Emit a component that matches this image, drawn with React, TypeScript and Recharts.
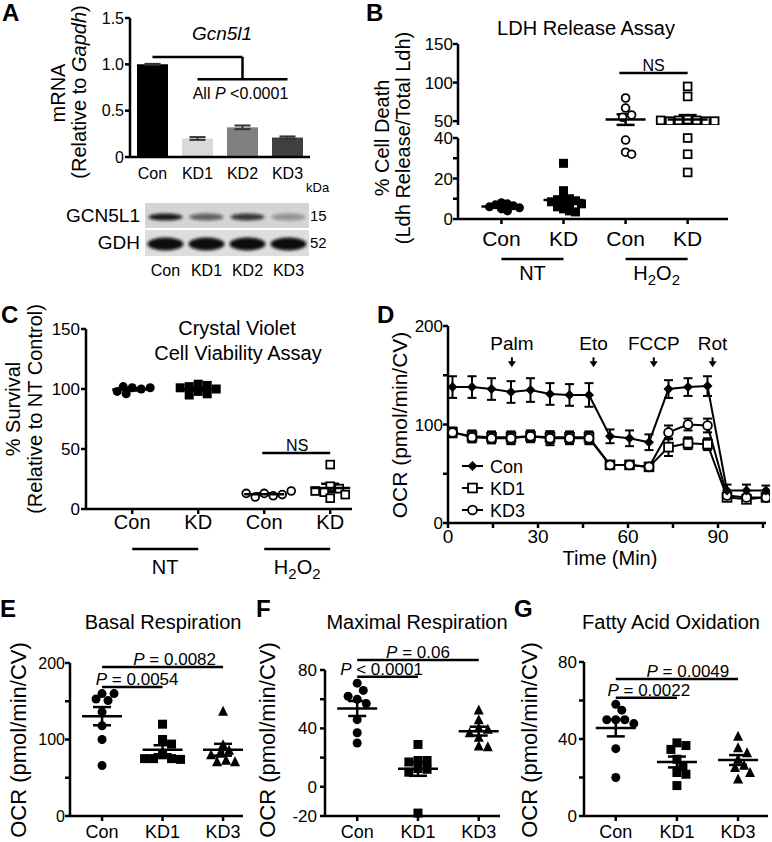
import React from "react";
import {
  ComposedChart,
  Bar,
  Cell,
  XAxis,
  YAxis,
  Scatter,
  Line,
  ErrorBar,
  ReferenceLine,
  ReferenceDot,
} from "recharts";

const FONT = '"Liberation Sans", Arial, Helvetica, sans-serif';
const INK = "#000";

// ---------- A: Gcn5l1 mRNA + blot
const aGroups = ["Con", "KD1", "KD2", "KD3"];
const aMrna = [1.0, 0.2, 0.32, 0.21];
const aSem = [0.005, 0.015, 0.02, 0.012];
const aTicks = [0, 0.5, 1, 1.5];
const aColors = ["#000000", "#d9d9d9", "#808080", "#404040"];
const blotLanes = ["Con", "KD1", "KD2", "KD3"];
const blotGcn5l1 = [0.95, 0.6, 0.8, 0.35];
const blotGdh = [1, 1, 1, 1];

// ---------- B: LDH release (% cell death)
const bCats = ["Con", "KD", "Con", "KD"];
const bNtCon = [8, 7.5, 7, 6.5, 6, 5.5, 5, 4];
const bNtKd = [27.5, 14, 11, 10, 9.5, 9, 8.5, 8, 7.5, 7, 6, 5, 4, 3.5];
const bH2o2Con = [80, 67, 58, 55, 39, 33, 32];
const bH2o2Kd = [95, 82, 52, 51, 51, 50, 50, 50, 51, 40, 32, 23];

// ---------- C: crystal violet (% survival)
const cCats = ["Con", "KD", "Con", "KD"];
const cNtCon = [101, 100, 96, 98, 101, 102];
const cNtKd = [104, 103, 102, 100, 98, 96, 95, 101];
const cH2o2Con = [13, 11, 10, 12, 13, 15];
const cH2o2Kd = [37, 19, 17, 14, 9, 12, 15];

// ---------- D: OCR time course
const dTime = [1.5, 8, 14.5, 21, 27.5, 34, 40.5, 47, 54, 60.5, 67, 73.5, 80, 86.5, 93, 99.5, 106];
const dCon = [138, 138, 136, 133, 135, 131, 130, 130, 88, 86, 82, 136, 138, 139, 33, 33, 33];
const dConErr = [11, 11, 11, 11, 12, 11, 11, 12, 7, 8, 8, 9, 9, 10, 6, 6, 5];
const dKd1 = [92, 88, 87, 87, 88, 87, 87, 87, 59, 59, 57, 77, 81, 80, 26, 24, 26];
const dKd1Err = [5, 6, 6, 6, 6, 6, 6, 6, 3, 3, 3, 9, 6, 6, 3, 3, 3];
const dKd3 = [92, 87, 86, 86, 88, 86, 86, 86, 59, 59, 57, 92, 100, 99, 28, 26, 26];
const dKd3Err = [4, 5, 5, 6, 5, 7, 6, 6, 3, 3, 3, 7, 6, 7, 3, 3, 3];
const dArrowNames = ["Palm", "Eto", "FCCP", "Rot"];
const dArrowTimes = [21.3, 48.5, 68.6, 88.2];

// ---------- E, F, G: OCR summaries
const eCats = ["Con", "KD1", "KD3"];
const eCon = [160, 151, 153, 160, 136, 118, 100, 66];
const eKd1 = [120, 100, 94, 80, 75, 75, 74, 75];
const eKd3 = [137, 93, 86, 82, 73, 71, 71, 80];
const fCon = [71, 66, 60, 62, 57, 46, 37, 30];
const fKd1 = [29, 18, 18, 17, 12.5, 12, 10, -18];
const fKd3 = [52.6, 46, 40.5, 39.4, 37, 34, 28, 27.5];
const gCon = [58, 55, 50, 50, 50, 48, 35, 20];
const gKd1 = [38, 36.6, 34.6, 29.5, 25.7, 22.6, 21.7, 15.8];
const gKd3 = [41.4, 35.4, 32.9, 29.5, 26.4, 25.2, 22.6, 19.2];

const ax = { stroke: INK, strokeWidth: 2.5 };

const mean = (a: number[]) => a.reduce((s, v) => s + v, 0) / a.length;
const sem = (a: number[]) => {
  const m = mean(a);
  return Math.sqrt(a.reduce((s, v) => s + (v - m) ** 2, 0) / (a.length - 1)) / Math.sqrt(a.length);
};

// spread points sideways so they don't sit on top of each other (column scatter)
function swarm(values: number[], pos: number, pxY: number, pxX: number, gap = 8) {
  const placed: { dx: number; py: number }[] = [];
  return values.map((v) => {
    const py = v * pxY;
    let dx = 0;
    for (let k = 0; k < 60; k++) {
      const cand = (k % 2 ? 1 : -1) * Math.ceil(k / 2) * 3;
      if (placed.every((p) => Math.hypot(p.dx - cand, p.py - py) >= gap)) {
        dx = cand;
        break;
      }
    }
    placed.push({ dx, py });
    return { x: pos + dx / pxX, y: v };
  });
}

function Marker({ cx, cy, kind, open, size = 9 }: any) {
  if (cx == null || cy == null) return null;
  const h = open ? size / 2 - 0.6 : size / 2;
  const fill = open ? "#fff" : INK;
  const sw = open ? 1.8 : 0;
  if (kind === "square")
    return <rect x={cx - h} y={cy - h} width={2 * h} height={2 * h} fill={fill} stroke={INK} strokeWidth={sw} />;
  if (kind === "triangle")
    return (
      <polygon
        points={`${cx},${cy - h - 1} ${cx + h + 0.5},${cy + h} ${cx - h - 0.5},${cy + h}`}
        fill={fill}
        stroke={INK}
        strokeWidth={sw}
      />
    );
  if (kind === "diamond")
    return (
      <polygon
        points={`${cx},${cy - h} ${cx + h},${cy} ${cx},${cy + h} ${cx - h},${cy}`}
        fill={fill}
        stroke={INK}
        strokeWidth={sw}
      />
    );
  return <circle cx={cx} cy={cy} r={h} fill={fill} stroke={INK} strokeWidth={sw} />;
}

type Group = { pos: number; values: number[]; kind: string; open?: boolean };

function pointSeries(groups: Group[], id: string, pxY: number, pxX: number, gap = 8) {
  return groups.map((g, i) => (
    <Scatter
      key={`${id}-p${i}`}
      data={swarm(g.values, g.pos, pxY, pxX, gap)}
      dataKey="y"
      isAnimationActive={false}
      shape={(p: any) => <Marker cx={p.cx} cy={p.cy} kind={g.kind} open={g.open} />}
    />
  ));
}

function meanSeries(groups: Group[], id: string) {
  const data = groups.map((g) => ({ x: g.pos, y: mean(g.values), e: sem(g.values) }));
  return (
    <Scatter
      key={`${id}-mean`}
      data={data}
      dataKey="y"
      isAnimationActive={false}
      shape={(p: any) => (
        <line x1={p.cx - 20} x2={p.cx + 20} y1={p.cy} y2={p.cy} stroke={INK} strokeWidth={2.5} />
      )}
    >
      <ErrorBar dataKey="e" direction="y" width={9} stroke={INK} strokeWidth={2.5} />
    </Scatter>
  );
}

// horizontal bar + text sitting on it, in data units
function barLabel(id: string, x1: number, x2: number, y: number, tx: number, content: React.ReactNode, dy: number, size: number) {
  return [
    <ReferenceLine
      key={`${id}-l`}
      segment={[{ x: x1, y }, { x: x2, y }]}
      stroke={INK}
      strokeWidth={2.5}
      ifOverflow="visible"
    />,
    <ReferenceDot
      key={`${id}-t`}
      x={tx}
      y={y}
      ifOverflow="visible"
      shape={(p: any) => (
        <text x={p.cx} y={p.cy + dy} textAnchor="middle" fontSize={size} fill={INK}>
          {content}
        </text>
      )}
    />,
  ];
}

const pText = (op: string, val: string) => (
  <>
    <tspan fontStyle="italic">P</tspan>
    {` ${op} ${val}`}
  </>
);

const h2o2 = (
  <>
    H<tspan fontSize={15} dy={5}>2</tspan>
    <tspan dy={-5}>O</tspan>
    <tspan fontSize={15} dy={5}>2</tspan>
  </>
);

function PanelA() {
  const data = aGroups.map((name, i) => ({ name, v: aMrna[i], e: aSem[i] }));
  const fmt = (v: number) => (v === 0 ? "0" : v.toFixed(1));
  return (
    <div style={{ position: "absolute", left: 80, top: 3 }}>
      <ComposedChart width={235} height={184} data={data} margin={{ top: 15, right: 5, bottom: 0, left: 0 }}>
        <XAxis
          dataKey="name"
          type="category"
          height={30}
          axisLine={ax}
          tickLine={false}
          tickSize={6}
          tickMargin={5}
          tick={{ fill: INK, fontSize: 16 }}
          interval={0}
        />
        <YAxis
          type="number"
          domain={[0, 1.5]}
          ticks={aTicks}
          allowDataOverflow
          width={50}
          axisLine={ax}
          tickLine={ax}
          tickSize={5}
          tick={() => <g />}
          interval={0}
        />
        <Bar dataKey="v" barSize={31} isAnimationActive={false}>
          {data.map((d, i) => (
            <Cell key={d.name} fill={aColors[i]} />
          ))}
          <ErrorBar dataKey="e" direction="y" width={8} stroke="#333" strokeWidth={2} />
        </Bar>
        {/* tick labels, anchored to the first category's band (left edge = axis) */}
        {aTicks.map((t) => (
          <ReferenceDot
            key={`yt-${t}`}
            x="Con"
            y={t}
            ifOverflow="visible"
            shape={(p: any) => (
              <text x={p.cx - 28.5} y={p.cy + 5.5} textAnchor="end" fontSize={16} fill={INK}>
                {fmt(t)}
              </text>
            )}
          />
        ))}
        <ReferenceLine segment={[{ x: "Con", y: 1.08 }, { x: "KD2", y: 1.08 }]} stroke={INK} strokeWidth={2.5} ifOverflow="visible" />
        <ReferenceLine segment={[{ x: "KD2", y: 1.08 }, { x: "KD2", y: 0.84 }]} stroke={INK} strokeWidth={2.5} ifOverflow="visible" />
        <ReferenceLine segment={[{ x: "KD1", y: 0.84 }, { x: "KD3", y: 0.84 }]} stroke={INK} strokeWidth={2.5} ifOverflow="visible" />
        <ReferenceDot
          x="KD2"
          y={0.626}
          ifOverflow="visible"
          shape={(p: any) => (
            <text x={p.cx - 2} y={p.cy} textAnchor="middle" fontSize={16} fill={INK}>
              All <tspan fontStyle="italic">P</tspan> {"<0.0001"}
            </text>
          )}
        />
      </ComposedChart>
    </div>
  );
}

const bGroups: Group[] = [
  { pos: 1, values: bNtCon, kind: "circle" },
  { pos: 2, values: bNtKd, kind: "square" },
  { pos: 3, values: bH2o2Con, kind: "circle", open: true },
  { pos: 4, values: bH2o2Kd, kind: "square", open: true },
];
const BREAK = 45;

function PanelB() {
  const upper = bGroups.map((g) => ({ ...g, values: g.values.filter((v) => v >= BREAK) }));
  const lower = bGroups.map((g) => ({ ...g, values: g.values.filter((v) => v < BREAK) }));
  const upperMeans = bGroups.filter((g) => mean(g.values) >= BREAK);
  const lowerMeans = bGroups.filter((g) => mean(g.values) < BREAK);
  const xDom: [number, number] = [0.3, 4.65];
  return (
    <>
      <div style={{ position: "absolute", left: 408, top: 29 }}>
        <ComposedChart width={330} height={101} margin={{ top: 15, right: 10, bottom: 5, left: 0 }}>
          <XAxis type="number" dataKey="x" domain={xDom} hide allowDataOverflow />
          <YAxis
            type="number"
            dataKey="y"
            domain={[BREAK, 150]}
            ticks={[50, 100, 150]}
            allowDataOverflow
            width={50}
            axisLine={ax}
            tickLine={ax}
            tickSize={5}
            tickMargin={0}
            tick={{ fill: INK, fontSize: 17 }}
            interval={0}
          />
          {pointSeries(upper, "bu", 0.77, 62.1)}
          {meanSeries(upperMeans, "bu")}
          {barLabel("bns", 2.9, 4, 112.3, 3.45, "NS", -2, 16)}
        </ComposedChart>
      </div>
      <div style={{ position: "absolute", left: 408, top: 126 }}>
        <ComposedChart width={330} height={170} margin={{ top: 12, right: 10, bottom: 0, left: 0 }}>
          <XAxis
            type="number"
            dataKey="x"
            domain={xDom}
            ticks={[1, 2, 3, 4]}
            tickFormatter={(v: number) => bCats[v - 1] ?? ""}
            height={77}
            axisLine={ax}
            tickLine={ax}
            tickSize={5}
            tickMargin={7}
            tick={{ fill: INK, fontSize: 21 }}
            interval={0}
          />
          <YAxis
            type="number"
            dataKey="y"
            domain={[0, 40]}
            ticks={[0, 10, 20, 30, 40]}
            tickFormatter={(v: number) => (v % 20 === 0 ? String(v) : "")}
            width={50}
            axisLine={ax}
            tickLine={ax}
            tickSize={5}
            tickMargin={0}
            tick={{ fill: INK, fontSize: 17 }}
            interval={0}
          />
          {pointSeries(lower, "bl", 2.025, 62.1, 6)}
          {meanSeries(lowerMeans, "bl")}
          {barLabel("bnt", 1, 2, -19.8, 1.5, "NT", 21, 20)}
          {barLabel("bh", 3, 4, -19.8, 3.5, h2o2, 21, 20)}
        </ComposedChart>
      </div>
    </>
  );
}

const cGroups: Group[] = [
  { pos: 1, values: cNtCon, kind: "circle" },
  { pos: 2, values: cNtKd, kind: "square" },
  { pos: 3, values: cH2o2Con, kind: "circle", open: true },
  { pos: 4, values: cH2o2Kd, kind: "square", open: true },
];

function PanelC() {
  return (
    <div style={{ position: "absolute", left: 46, top: 314 }}>
      <ComposedChart width={316} height={277} margin={{ top: 15, right: 10, bottom: 0, left: 0 }}>
        <XAxis
          type="number"
          dataKey="x"
          domain={[0.3, 4.33]}
          ticks={[1, 2, 3, 4]}
          tickFormatter={(v: number) => cCats[v - 1] ?? ""}
          height={82}
          axisLine={ax}
          tickLine={ax}
          tickSize={5}
          tickMargin={1}
          tick={{ fill: INK, fontSize: 20 }}
          interval={0}
        />
        <YAxis
          type="number"
          dataKey="y"
          domain={[0, 150]}
          ticks={[0, 50, 100, 150]}
          width={40}
          axisLine={ax}
          tickLine={ax}
          tickSize={5}
          tickMargin={1}
          tick={{ fill: INK, fontSize: 17 }}
          interval={0}
        />
        {pointSeries(cGroups, "c", 1.2, 66, 7)}
        {meanSeries(cGroups, "c")}
        {barLabel("cns", 2.97, 4, 46.7, 3.5, "NS", -2, 16)}
        {barLabel("cnt", 1, 2, -33.3, 1.5, "NT", 25, 20)}
        {barLabel("ch", 3, 4, -33.3, 3.5, h2o2, 25, 20)}
      </ComposedChart>
    </div>
  );
}

function PanelD() {
  const data = dTime.map((t, i) => ({
    t,
    con: dCon[i],
    conE: dConErr[i],
    kd1: dKd1[i],
    kd1E: dKd1Err[i],
    kd3: dKd3[i],
    kd3E: dKd3Err[i],
  }));
  const dot = (kind: string, open: boolean, size: number) => (p: any) => (
    <Marker key={`${kind}-${p.index}`} cx={p.cx} cy={p.cy} kind={kind} open={open} size={size} />
  );
  return (
    <div style={{ position: "absolute", left: 408, top: 311 }}>
      <ComposedChart width={362} height={237} data={data} margin={{ top: 15, right: 4, bottom: 0, left: 0 }}>
        <XAxis
          type="number"
          dataKey="t"
          domain={[0, 106]}
          ticks={[0, 15, 30, 45, 60, 75, 90, 105]}
          tickFormatter={(v: number) => (v % 30 === 0 ? String(v) : "")}
          height={25}
          axisLine={ax}
          tickLine={ax}
          tickSize={5}
          tickMargin={2}
          tick={{ fill: INK, fontSize: 19 }}
          interval={0}
        />
        <YAxis
          type="number"
          domain={[0, 200]}
          ticks={[0, 50, 100, 150, 200]}
          tickFormatter={(v: number) => (v % 100 === 0 ? String(v) : "")}
          width={40}
          axisLine={ax}
          tickLine={ax}
          tickSize={5}
          tickMargin={0}
          tick={{ fill: INK, fontSize: 17 }}
          interval={0}
        />
        <Line dataKey="kd1" stroke={INK} strokeWidth={2} dot={dot("square", true, 10)} activeDot={false} isAnimationActive={false}>
          <ErrorBar dataKey="kd1E" direction="y" width={4.5} stroke={INK} strokeWidth={2} />
        </Line>
        <Line dataKey="kd3" stroke={INK} strokeWidth={2} dot={dot("circle", true, 10)} activeDot={false} isAnimationActive={false}>
          <ErrorBar dataKey="kd3E" direction="y" width={4.5} stroke={INK} strokeWidth={2} />
        </Line>
        <Line dataKey="con" stroke={INK} strokeWidth={2} dot={dot("diamond", false, 10)} activeDot={false} isAnimationActive={false}>
          <ErrorBar dataKey="conE" direction="y" width={4.5} stroke={INK} strokeWidth={2} />
        </Line>
        {dArrowNames.map((name, i) => (
          <ReferenceDot
            key={name}
            x={dArrowTimes[i]}
            y={158}
            ifOverflow="visible"
            shape={(p: any) => (
              <g>
                <line x1={p.cx} x2={p.cx} y1={p.cy - 10} y2={p.cy - 5} stroke={INK} strokeWidth={2} />
                <polygon points={`${p.cx - 4},${p.cy - 6} ${p.cx + 4},${p.cy - 6} ${p.cx},${p.cy}`} fill={INK} />
                <text x={p.cx} y={p.cy - 17} textAnchor="middle" fontSize={19} fill={INK}>
                  {name}
                </text>
              </g>
            )}
          />
        ))}
      </ComposedChart>
    </div>
  );
}

type Summary = {
  left: number;
  top: number;
  width: number;
  height: number;
  right: number;
  xDom: [number, number];
  yDom: [number, number];
  yTicks: number[];
  labeled: number[];
  tickMargin: number;
  tickFont: number;
  pxY: number;
  pxX: number;
  values: number[][];
  pLines: { x2: number; y: number; tx: number; op: string; val: string }[];
};

function SummaryPanel(s: Summary) {
  const kinds = ["circle", "square", "triangle"];
  const groups: Group[] = s.values.map((v, i) => ({ pos: i + 1, values: v, kind: kinds[i] }));
  return (
    <div style={{ position: "absolute", left: s.left, top: s.top }}>
      <ComposedChart width={s.width} height={s.height} margin={{ top: 30, right: s.right, bottom: 0, left: 0 }}>
        <XAxis
          type="number"
          dataKey="x"
          domain={s.xDom}
          ticks={[1, 2, 3]}
          tickFormatter={(v: number) => eCats[v - 1] ?? ""}
          height={26}
          axisLine={ax}
          tickLine={ax}
          tickSize={5}
          tickMargin={4}
          tick={{ fill: INK, fontSize: 18 }}
          interval={0}
        />
        <YAxis
          type="number"
          dataKey="y"
          domain={s.yDom}
          ticks={s.yTicks}
          tickFormatter={(v: number) => (s.labeled.includes(v) ? String(v) : "")}
          width={40}
          axisLine={ax}
          tickLine={ax}
          tickSize={5}
          tickMargin={s.tickMargin}
          tick={{ fill: INK, fontSize: s.tickFont }}
          interval={0}
        />
        {pointSeries(groups, "s", s.pxY, s.pxX)}
        {meanSeries(groups, "s")}
        {s.pLines.map((l, i) => barLabel(`p${i}`, 1, l.x2, l.y, l.tx, pText(l.op, l.val), -2, 17))}
      </ComposedChart>
    </div>
  );
}

function Overlay() {
  const T = ({ x, y, size = 20, anchor = "middle", bold, italic, children }: any) => (
    <text
      x={x}
      y={y}
      fontSize={size}
      textAnchor={anchor}
      fontWeight={bold ? "bold" : "normal"}
      fontStyle={italic ? "italic" : "normal"}
      fill={INK}
    >
      {children}
    </text>
  );
  const V = ({ x, y, size = 20, children }: any) => (
    <text
      transform={`translate(${x},${y}) rotate(-90)`}
      textAnchor="middle"
      dominantBaseline="central"
      fontSize={size}
      fill={INK}
    >
      {children}
    </text>
  );
  const laneW = 41;
  const blotX = 145;
  const legend = [
    { name: "Con", kind: "diamond", open: false },
    { name: "KD1", kind: "square", open: true },
    { name: "KD3", kind: "circle", open: true },
  ];
  return (
    <svg width={772} height={842} style={{ position: "absolute", left: 0, top: 0, pointerEvents: "none" }}>
      <defs>
        <filter id="blot-blur" x="-30%" y="-100%" width="160%" height="300%">
          <feGaussianBlur stdDeviation="1.6" />
        </filter>
      </defs>
      {/* panel letters */}
      <T x={2} y={21} size={24} anchor="start" bold>A</T>
      <T x={366} y={21} size={24} anchor="start" bold>B</T>
      <T x={1} y={323} size={24} anchor="start" bold>C</T>
      <T x={377} y={323} size={24} anchor="start" bold>D</T>
      <T x={0} y={617} size={24} anchor="start" bold>E</T>
      <T x={256} y={617} size={24} anchor="start" bold>F</T>
      <T x={514} y={617} size={24} anchor="start" bold>G</T>

      {/* titles */}
      <T x={222} y={40} size={19} italic>Gcn5l1</T>
      <T x={586} y={35}>LDH Release Assay</T>
      <T x={237} y={335}>Crystal Violet</T>
      <T x={238} y={360}>Cell Viability Assay</T>
      <T x={163} y={629}>Basal Respiration</T>
      <T x={417} y={629}>Maximal Respiration</T>
      <T x={671} y={629}>Fatty Acid Oxidation</T>
      <T x={610} y={565}>Time (Min)</T>

      {/* axis titles */}
      <V x={58} y={93}>mRNA</V>
      <V x={79} y={92}>
        (Relative to <tspan fontStyle="italic">Gapdh</tspan>)
      </V>
      <V x={382} y={138}>% Cell Death</V>
      <V x={403} y={138}>(Ldh Release/Total Ldh)</V>
      <V x={13} y={409}>% Survival</V>
      <V x={35} y={409}>(Relative to NT Control)</V>
      <V x={399} y={425} size={21}>OCR (pmol/min/CV)</V>
      <V x={18} y={740} size={22}>OCR (pmol/min/CV)</V>
      <V x={267} y={740} size={22}>OCR (pmol/min/CV)</V>
      <V x={529} y={740} size={22}>OCR (pmol/min/CV)</V>

      {/* western blot */}
      <rect x={blotX} y={203} width={laneW * 4} height={25} fill="#d4d4d4" />
      <rect x={blotX} y={230} width={laneW * 4} height={26} fill="#dedede" />
      {blotLanes.map((lane, i) => (
        <g key={lane} filter="url(#blot-blur)">
          <ellipse cx={blotX + laneW * (i + 0.5)} cy={217} rx={17} ry={3.6} fill="#111" opacity={blotGcn5l1[i]} />
          <ellipse cx={blotX + laneW * (i + 0.5)} cy={244} rx={18} ry={6.5} fill="#0a0a0a" opacity={blotGdh[i]} />
        </g>
      ))}
      {blotLanes.map((lane, i) => (
        <T key={lane} x={blotX + laneW * (i + 0.5)} y={276} size={16}>{lane}</T>
      ))}
      <T x={140} y={222} size={19} anchor="end">GCN5L1</T>
      <T x={140} y={249} size={19} anchor="end">GDH</T>
      <T x={306} y={192} size={13} anchor="start">kDa</T>
      <T x={310} y={221} size={15} anchor="start">15</T>
      <T x={310} y={248} size={15} anchor="start">52</T>

      {/* D legend */}
      {legend.map((l, i) => {
        const y = 466 + 22 * i;
        return (
          <g key={l.name}>
            <line x1={462} x2={483} y1={y} y2={y} stroke={INK} strokeWidth={2} />
            <Marker cx={472.5} cy={y} kind={l.kind} open={l.open} size={10} />
            <T x={490} y={y + 6.5} size={18} anchor="start">{l.name}</T>
          </g>
        );
      })}
    </svg>
  );
}

export default function App() {
  return (
    <div
      style={{
        position: "absolute",
        left: 0,
        top: 0,
        width: 772,
        height: 842,
        background: "#fff",
        fontFamily: FONT,
        color: INK,
        overflow: "hidden",
      }}
    >
      <PanelA />
      <PanelB />
      <PanelC />
      <PanelD />
      <SummaryPanel
        left={30}
        top={633}
        width={221}
        height={209}
        right={8}
        xDom={[0.47, 3.33]}
        yDom={[0, 200]}
        yTicks={[0, 50, 100, 150, 200]}
        labeled={[0, 100, 200]}
        tickMargin={0}
        tickFont={16}
        pxY={0.765}
        pxX={60.5}
        values={[eCon, eKd1, eKd3]}
        pLines={[
          { x2: 3, y: 194.8, tx: 2.2, op: "=", val: "0.0082" },
          { x2: 2, y: 168.6, tx: 1.58, op: "=", val: "0.0054" },
        ]}
      />
      <SummaryPanel
        left={285}
        top={640}
        width={223}
        height={202}
        right={8}
        xDom={[0.47, 3.35]}
        yDom={[-20, 80]}
        yTicks={[-20, 0, 20, 40, 60, 80]}
        labeled={[-20, 0, 40, 80]}
        tickMargin={3}
        tickFont={17}
        pxY={1.46}
        pxX={60}
        values={[fCon, fKd1, fKd3]}
        pLines={[
          { x2: 3, y: 86.8, tx: 2.0, op: "=", val: "0.06" },
          { x2: 2, y: 75.3, tx: 1.4, op: "<", val: "0.0001" },
        ]}
      />
      <SummaryPanel
        left={544}
        top={632}
        width={228}
        height={210}
        right={4}
        xDom={[0.48, 3.49]}
        yDom={[0, 80]}
        yTicks={[0, 20, 40, 60, 80]}
        labeled={[0, 40, 80]}
        tickMargin={2}
        tickFont={17}
        pxY={1.94}
        pxX={61}
        values={[gCon, gKd1, gKd3]}
        pLines={[
          { x2: 3, y: 71.2, tx: 2.18, op: "=", val: "0.0049" },
          { x2: 2, y: 61.4, tx: 1.54, op: "=", val: "0.0022" },
        ]}
      />
      <Overlay />
    </div>
  );
}
